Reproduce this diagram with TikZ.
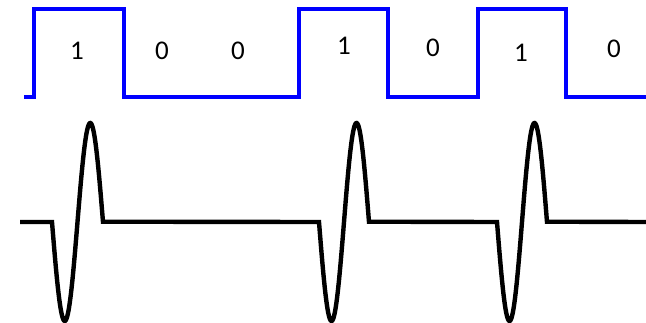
\documentclass[tikz,border=0pt]{standalone}
\usepackage{fontspec}
\setmainfont{Carlito}
\begin{document}
\begin{tikzpicture}[x=1pt,y=-1pt,
  clock/.style={draw=blue,line width=3.2pt},
  wave/.style={draw=black,line width=4.4pt},
  bit/.style={inner sep=0pt,font=\fontsize{27}{31}\selectfont,text=black}]
\useasboundingbox (0,0) rectangle (646,322);
% digital bit stream 1 0 0 1 0 1 0
\draw[clock] (24,97) -- (34,97) -- (34,9) -- (124,9) -- (124,97) -- (299,97)
  -- (299,9) -- (388,9) -- (388,97) -- (478,97) -- (478,9) -- (566,9)
  -- (566,97) -- (646,97);
\node[bit] (l1) at (77,51) {1};
\node[bit] (l2) at (162,51) {0};
\node[bit] (l3) at (238,51) {0};
\node[bit] (l4) at (344,46) {1};
\node[bit] (l5) at (433,48) {0};
\node[bit] (l6) at (521,53) {1};
\node[bit] (l7) at (614,49) {0};
% one sine period for every 1 bit
\draw[wave] (20,222) -- (52,222)
  -- plot[domain=0:1,samples=90] ({52+51*\x},{222+99*sin(360*\x)})
  -- (319,222)
  -- plot[domain=0:1,samples=90] ({319+50*\x},{222+99*sin(360*\x)})
  -- (497,222)
  -- plot[domain=0:1,samples=90] ({497+50*\x},{222+99*sin(360*\x)})
  -- (646,222);
\end{tikzpicture}
\end{document}
